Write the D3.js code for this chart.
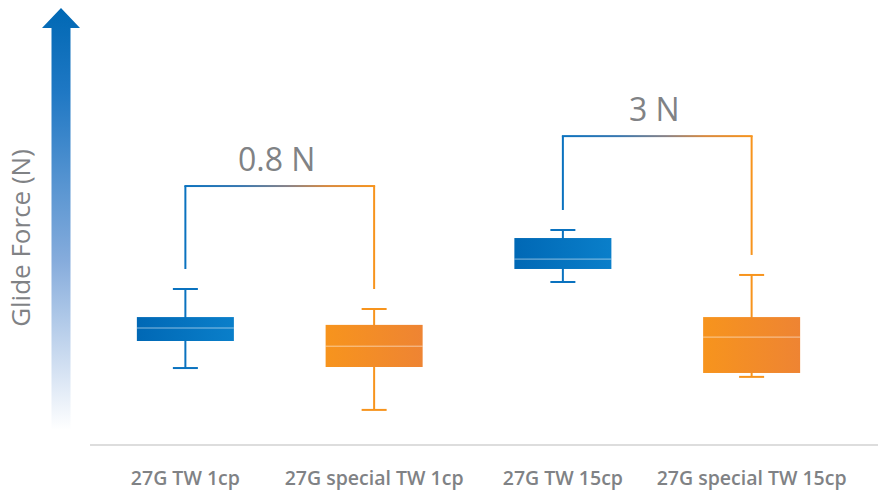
<!DOCTYPE html>
<html><head><meta charset="utf-8">
<script src="https://cdn.jsdelivr.net/npm/d3@7"></script>
<style>html,body{margin:0;padding:0;background:#fff;}svg{display:block;}</style>
</head><body>
<svg id="c" width="878" height="490"></svg>
<script>
const categories = ["27G TW 1cp", "27G special TW 1cp", "27G TW 15cp", "27G special TW 15cp"];
const groups = ["blue", "orange", "blue", "orange"];
const whiskerMax = [6.0, 5.23, 8.27, 6.54];
const q3 = [4.92, 4.62, 7.96, 4.92];
const median = [4.5, 3.8, 7.15, 4.15];
const q1 = [4.0, 3.0, 6.77, 2.77];
const whiskerMin = [2.96, 1.35, 6.27, 2.62];
const bracketPairs = [[0, 1], [2, 3]];
const bracketLevel = [9.96, 11.88];
const bracketLabels = ["0.8 N", "3 N"];
const yLabel = "Glide Force (N)";

const svg = d3.select("#c");
const W = 878, H = 490;
const x = d3.scalePoint().domain(categories).range([91, 846]).padding(0.5);
const y = d3.scaleLinear().domain([0, 16]).range([445, 29]);
const step = x.step();
const boxW = step * 0.514, capW = 25;
const gray = "#808285";

const defs = svg.append("defs");
const arrowGrad = defs.append("linearGradient").attr("id", "ag").attr("x1", 0).attr("y1", 0).attr("x2", 0).attr("y2", 1);
arrowGrad.append("stop").attr("offset", "0%").attr("stop-color", "#0068b4");
arrowGrad.append("stop").attr("offset", "20%").attr("stop-color", "#1f78c4");
arrowGrad.append("stop").attr("offset", "60%").attr("stop-color", "#86acdc");
arrowGrad.append("stop").attr("offset", "100%").attr("stop-color", "#ffffff");
const fills = {
  blue: ["#0068b5", "#0a7fca"],
  orange: ["#f7941d", "#ee8433"]
};
Object.entries(fills).forEach(([k, c]) => {
  const g = defs.append("linearGradient").attr("id", "f_" + k).attr("x1", 0).attr("x2", 1).attr("y1", 0).attr("y2", 0);
  g.append("stop").attr("offset", "0%").attr("stop-color", c[0]);
  g.append("stop").attr("offset", "100%").attr("stop-color", c[1]);
});
const strokeCol = { blue: "#0a72bf", orange: "#f7941d" };
const bg = defs.append("linearGradient").attr("id", "bg").attr("x1", 0).attr("x2", 1).attr("y1", 0).attr("y2", 0);
bg.append("stop").attr("offset", "0%").attr("stop-color", "#0a72bf");
bg.append("stop").attr("offset", "30%").attr("stop-color", "#3a78b0");
bg.append("stop").attr("offset", "55%").attr("stop-color", "#8a8285");
bg.append("stop").attr("offset", "75%").attr("stop-color", "#d88a40");
bg.append("stop").attr("offset", "100%").attr("stop-color", "#f7941d");

// arrow axis
const ax = 61;
svg.append("path")
  .attr("d", `M${ax-9.5},${y(0)-15} L${ax-9.5},28 L${ax-19},28 L${ax},8 L${ax+19},28 L${ax+9.5},28 L${ax+9.5},${y(0)-15} Z`)
  .attr("fill", "url(#ag)");
svg.append("text").attr("transform", `translate(30,238) rotate(-90)`)
  .attr("text-anchor", "middle").attr("font-family", "Open Sans").attr("font-size", 26)
  .attr("fill", gray).text(yLabel);

// baseline
svg.append("line").attr("x1", 90).attr("x2", W).attr("y1", y(0)).attr("y2", y(0))
  .attr("stroke", "#dddddd").attr("stroke-width", 2);

// x labels
svg.selectAll("text.xl").data(categories).join("text").attr("class", "xl")
  .attr("x", d => x(d)).attr("y", 485).attr("text-anchor", "middle")
  .attr("font-family", "Open Sans").attr("font-weight", 600).attr("font-size", 19.5)
  .attr("fill", gray).text(d => d);

// boxes
categories.forEach((c, i) => {
  const cx = x(c), g = groups[i], col = strokeCol[g];
  const gg = svg.append("g");
  gg.append("line").attr("x1", cx).attr("x2", cx).attr("y1", y(whiskerMax[i])).attr("y2", y(whiskerMin[i]))
    .attr("stroke", col).attr("stroke-width", 2);
  [whiskerMax[i], whiskerMin[i]].forEach(v => {
    gg.append("line").attr("x1", cx - capW / 2).attr("x2", cx + capW / 2).attr("y1", y(v)).attr("y2", y(v))
      .attr("stroke", col).attr("stroke-width", 2);
  });
  gg.append("rect").attr("x", cx - boxW / 2).attr("width", boxW)
    .attr("y", y(q3[i])).attr("height", y(q1[i]) - y(q3[i])).attr("fill", `url(#f_${g})`);
  gg.append("line").attr("x1", cx - boxW / 2).attr("x2", cx + boxW / 2).attr("y1", y(median[i])).attr("y2", y(median[i]))
    .attr("stroke", "#ffffff").attr("stroke-opacity", 0.55).attr("stroke-width", 1);
});

// brackets
bracketPairs.forEach(([a, b], k) => {
  const xa = x(categories[a]), xb = x(categories[b]);
  const yt = y(bracketLevel[k]);
  const ya = y(whiskerMax[a]) - 20, yb = y(whiskerMax[b]) - 20;
  svg.append("line").attr("x1", xa).attr("x2", xa).attr("y1", ya).attr("y2", yt).attr("stroke", strokeCol.blue).attr("stroke-width", 2);
  svg.append("line").attr("x1", xb).attr("x2", xb).attr("y1", yb).attr("y2", yt).attr("stroke", strokeCol.orange).attr("stroke-width", 2);
  svg.append("rect").attr("x", xa - 1).attr("y", yt - 1).attr("width", xb - xa + 2).attr("height", 2).attr("fill", "url(#bg)");
  svg.append("text").attr("x", (xa + xb) / 2 - 3).attr("y", yt - 15).attr("text-anchor", "middle")
    .attr("font-family", "Open Sans").attr("font-size", 32).attr("fill", gray).text(bracketLabels[k]);
});
</script>
</body></html>
